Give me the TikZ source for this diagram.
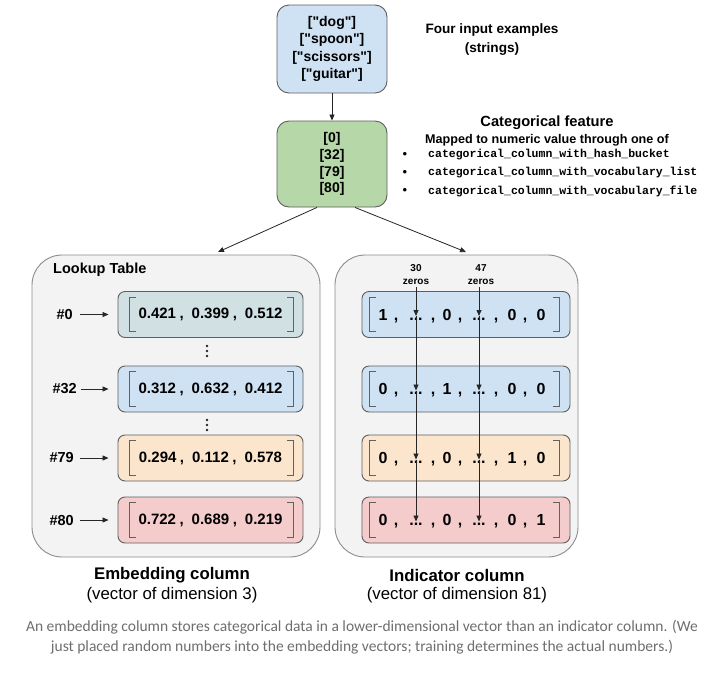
\documentclass[tikz,border=0pt]{standalone}
\usepackage{fontspec}
\setmainfont{Liberation Sans}
\setmonofont{Liberation Mono}
\newfontfamily\qfont{Liberation Sans}
\newfontfamily\capfont{Carlito}
\usetikzlibrary{arrows.meta,calc}
\definecolor{cblue}{HTML}{CFE2F3}
\definecolor{cgreen}{HTML}{B6D7A8}
\definecolor{cteal}{HTML}{D0E0E3}
\definecolor{corange}{HTML}{FCE5CD}
\definecolor{cred}{HTML}{F4CCCC}
\definecolor{cpanel}{HTML}{F3F3F3}
\definecolor{cedge}{HTML}{5F5F5F}
\definecolor{ccap}{HTML}{6E6E6E}
\newcommand\fs[1]{\fontsize{#1}{#1}\selectfont}
\newcommand\vecbr[3]{%
  \draw[brk] ($(#1.north west)+(#2+6,6)$) -- ($(#1.north west)+(#2,6)$) -- ($(#1.south west)+(#2,-6)$) -- ($(#1.south west)+(#2+6,-6)$);
  \draw[brk] ($(#1.north east)+(-#3-6,6)$) -- ($(#1.north east)+(-#3,6)$) -- ($(#1.south east)+(-#3,-6)$) -- ($(#1.south east)+(-#3-6,-6)$);
}
\newcommand\vdotsat[2]{%
  \fill[black!85] (#1,#2-5) circle (1.4pt) (#1,#2) circle (1.4pt) (#1,#2+5) circle (1.4pt);
}
\tikzset{
  topbox/.style={draw=cedge, rounded corners=12pt, line width=0.9pt, align=center, inner sep=0pt, minimum width=110pt},
  vecbox/.style={draw=cedge, rounded corners=7pt, line width=0.9pt, minimum height=46pt, inner sep=0pt},
  panel/.style={draw=black!45, fill=cpanel, rounded corners=30pt, line width=0.9pt, minimum height=302pt, inner sep=0pt},
  brk/.style={draw=black!62, line width=1pt},
  arr/.style={-{Triangle[length=6pt,width=5pt]}, line width=0.8pt, draw=black!85},
  vtxt/.style={font=\bfseries\fs{15}, inner sep=0pt},
  itxt/.style={font=\bfseries\fs{16}, inner sep=0pt, anchor=base},
  lbl/.style={font=\bfseries\fs{14.5}, inner sep=0pt},
}
\begin{document}
\begin{tikzpicture}[x=1pt,y=-1pt]
\useasboundingbox[fill=white] (0,0) rectangle (720,675);

% top boxes
\node[topbox, fill=cblue, minimum height=88pt, font=\qfont\bfseries\fontsize{14}{17.6}\selectfont] (inp) at (332,49)
  {["dog"]\\{}["spoon"]\\{}["scissors"]\\{}["guitar"]};
\node[topbox, fill=cgreen, minimum height=86pt, font=\bfseries\fontsize{14}{16.8}\selectfont] (cat) at (332,164)
  {[0]\\{}[32]\\{}[79]\\{}[80]};
\draw[arr] (inp.south) -- (cat.north);

\node[align=center, font=\bfseries\fontsize{13.6}{19}\selectfont] (t1) at (492,40) {Four input examples\\(strings)};
\node[font=\bfseries\fs{14.7}, inner sep=0pt] (t2) at (547,123) {Categorical feature};
\node[anchor=west, font=\bfseries\fs{12.6}, inner sep=0pt] (t3) at (425,140) {Mapped to numeric value through one of};
\node[font=\fs{13}, inner sep=0pt] (b1) at (405,155) {•};
\node[font=\fs{13}, inner sep=0pt] (b2) at (405,173) {•};
\node[font=\fs{13}, inner sep=0pt] (b3) at (405,191) {•};
\node[anchor=west, font=\ttfamily\bfseries\fs{11.5}, inner sep=0pt] (m1) at (428,155) {categorical\_column\_with\_hash\_bucket};
\node[anchor=west, font=\ttfamily\bfseries\fs{11.5}, inner sep=0pt] (m2) at (428,173) {categorical\_column\_with\_vocabulary\_list};
\node[anchor=west, font=\ttfamily\bfseries\fs{11.5}, inner sep=0pt] (m3) at (428,191) {categorical\_column\_with\_vocabulary\_file};

% panels
\node[panel, minimum width=288pt] (lp) at (176,406) {};
\node[panel, minimum width=243pt] (rp) at (456.5,406) {};
\coordinate (la) at (218,252);
\coordinate (ra) at (466,252);
\draw[arr] ($(cat.south)+(-15,0)$) -- (la);
\draw[arr] ($(cat.south)+(23,0)$) -- (ra);

% left panel
\node[lbl, anchor=west] (lt) at (53,270) {Lookup Table};
\node[vecbox, fill=cteal, minimum width=185pt] (lv0) at (210.5,314.5) {};
\node[vecbox, fill=cblue, minimum width=185pt] (lv1) at (210.5,389) {};
\node[vecbox, fill=corange, minimum width=185pt] (lv2) at (210.5,458) {};
\node[vecbox, fill=cred, minimum width=185pt] (lv3) at (210.5,520) {};
\foreach \n in {lv0,lv1,lv2,lv3}{\vecbr{\n}{12}{10}}
\node[vtxt] (n0) at (lv0) {0.421\hspace{3.5pt},\hspace{8pt}0.399\hspace{3.5pt},\hspace{8pt}0.512};
\node[vtxt] (n1) at (lv1) {0.312\hspace{3.5pt},\hspace{8pt}0.632\hspace{3.5pt},\hspace{8pt}0.412};
\node[vtxt] (n2) at (lv2) {0.294\hspace{3.5pt},\hspace{8pt}0.112\hspace{3.5pt},\hspace{8pt}0.578};
\node[vtxt] (n3) at (lv3) {0.722\hspace{3.5pt},\hspace{8pt}0.689\hspace{3.5pt},\hspace{8pt}0.219};
\vdotsat{207}{351}
\vdotsat{207}{425}
\node[lbl, anchor=east] (h0) at (73,314.5) {\#0};
\node[lbl, anchor=east] (h1) at (77,389) {\#32};
\node[lbl, anchor=east] (h2) at (74,458) {\#79};
\node[lbl, anchor=east] (h3) at (74,520) {\#80};
\draw[arr, shorten <=7pt, shorten >=9pt] (h0.east) -- (lv0.west);
\draw[arr, shorten <=4pt, shorten >=9pt] (h1.east) -- (lv1.west);
\draw[arr, shorten <=6pt, shorten >=9pt] (h2.east) -- (lv2.west);
\draw[arr, shorten <=6pt, shorten >=9pt] (h3.east) -- (lv3.west);
\node[font=\bfseries\fs{16.8}, inner sep=0pt] (ec) at (172,575) {Embedding column};
\node[font=\fs{16.8}, inner sep=0pt] (ed) at (172,595) {(vector of dimension 3)};

% right panel
\node[vecbox, fill=cblue, minimum width=208pt] (rv0) at (466,314.5) {};
\node[vecbox, fill=cblue, minimum width=208pt] (rv1) at (466,389) {};
\node[vecbox, fill=corange, minimum width=208pt] (rv2) at (466,458) {};
\node[vecbox, fill=cred, minimum width=208pt] (rv3) at (466,520) {};
\foreach \n in {rv0,rv1,rv2,rv3}{\vecbr{\n}{8}{11}}
\foreach \k/\yy/\a/\b/\c/\d in {0/314.5/1/0/0/0, 1/389/0/1/0/0, 2/458/0/0/1/0, 3/520/0/0/0/1}{
  \pgfmathsetmacro\y{\yy+5.8}
  \node[itxt] (i\k a) at (383,\y) {\a};
  \node[itxt] (i\k p) at (396,\y) {,};
  \node[itxt] (i\k e) at (416,\y) {...};
  \node[itxt] (i\k q) at (433,\y) {,};
  \node[itxt] (i\k b) at (447,\y) {\b};
  \node[itxt] (i\k r) at (460,\y) {,};
  \node[itxt] (i\k f) at (479,\y) {...};
  \node[itxt] (i\k s) at (496,\y) {,};
  \node[itxt] (i\k c) at (512,\y) {\c};
  \node[itxt] (i\k t) at (525,\y) {,};
  \node[itxt] (i\k d) at (541,\y) {\d};
}
\node[align=center, font=\bfseries\fontsize{10}{13}\selectfont, inner sep=0pt] (z1) at (416,275) {30\\zeros};
\node[align=center, font=\bfseries\fontsize{10}{13}\selectfont, inner sep=0pt] (z2) at (481,275) {47\\zeros};
\foreach \x/\z/\e in {416/z1/e, 479/z2/f}{
  \coordinate (c0\e) at (\x,316);
  \coordinate (c1\e) at (\x,390.5);
  \coordinate (c2\e) at (\x,459.5);
  \coordinate (c3\e) at (\x,521.5);
  \draw[arr] (\x,287) -- (c0\e);
  \draw[arr] (c0\e) -- (c1\e);
  \draw[arr] (c1\e) -- (c2\e);
  \draw[arr] (c2\e) -- (c3\e);
}
\node[font=\bfseries\fs{16.8}, inner sep=0pt] (ic) at (457,575) {Indicator column};
\node[font=\fs{16.8}, inner sep=0pt] (id) at (457,595) {(vector of dimension 81)};

% caption
\node[align=center, text=ccap, font=\capfont\fontsize{15.5}{20}\selectfont, inner sep=0pt] (cap) at (362,637)
 {An embedding column stores categorical data in a lower-dimensional vector than an indicator column. (We\\
  just placed random numbers into the embedding vectors; training determines the actual numbers.)};
\end{tikzpicture}
\end{document}
